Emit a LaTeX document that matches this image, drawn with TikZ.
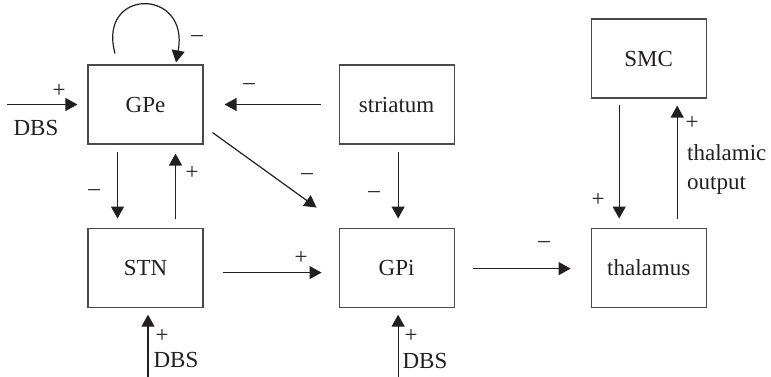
\documentclass[tikz,border=0pt]{standalone}
\usepackage{fontspec}
\setmainfont{Liberation Serif}
\usetikzlibrary{arrows.meta,positioning}
\definecolor{Ink}{HTML}{231F20}
\definecolor{Frame}{HTML}{4A4A4A}
\tikzset{
  region/.style={
    draw=Frame, line width=1.1pt, minimum width=115pt, minimum height=79pt,
    inner sep=0pt, text=Ink, font=\fontsize{23}{28}\selectfont
  },
  sign/.style={inner sep=0pt, text=Ink, font=\fontsize{23}{28}\selectfont},
  note/.style={inner sep=0pt, text=Ink, align=left, font=\fontsize{23}{29}\selectfont},
  flow/.style={-{Triangle[length=12pt,width=13pt]}, line width=1.2pt, draw=Ink}
}

\begin{document}
\begin{tikzpicture}[x=1pt,y=-1pt]
    \useasboundingbox (0,0) rectangle (771,376);
    % boxes
    \node[region] (gpe) at (145.5,104.5) {GPe};
    \node[region,below=83pt of gpe] (stn) {STN};
    \node[region,right=135pt of gpe] (striatum) {striatum};
    \node[region,below=83pt of striatum] (gpi) {GPi};
    \node[region,right=136pt of gpi] (thalamus) {thalamus};
    \node[region,above=129pt of thalamus] (smc) {SMC};
    % free ends of the DBS inputs
    \coordinate[left=80pt of gpe.west] (dbsGPe);
    \coordinate (dbsSTN) at ([xshift=2.5pt,yshift=-69pt]stn.south);
    \coordinate (dbsGPi) at ([xshift=1.5pt,yshift=-69pt]gpi.south);
    % connectors
    \draw[flow] (dbsGPe) -- ([xshift=-10pt]gpe.west);
    \draw[flow] ([xshift=-30.5pt,yshift=11pt]gpe.north) .. controls +(-18,-66) and +(14,-75) .. ([xshift=30.5pt,yshift=2pt]gpe.north);
    \draw[flow] ([xshift=-18pt]striatum.west) -- ([xshift=21pt]gpe.east);
    \draw[flow] ([xshift=-28pt,yshift=-7pt]gpe.south) -- ([xshift=-28pt,yshift=9pt]stn.north);
    \draw[flow] ([xshift=30pt,yshift=9pt]stn.north) -- ([xshift=30pt,yshift=-9pt]gpe.south);
    \draw[flow] ([xshift=9pt,yshift=12pt]gpe.south east) -- ([xshift=-22pt,yshift=20pt]gpi.north west);
    \draw[flow] ([xshift=1.5pt,yshift=-7pt]striatum.south) -- ([xshift=1.5pt,yshift=9pt]gpi.north);
    \draw[flow] ([xshift=19pt,yshift=-5pt]stn.east) -- ([xshift=-17pt,yshift=-5pt]gpi.west);
    \draw[flow] ([xshift=18pt,yshift=-1pt]gpi.east) -- ([xshift=-20pt,yshift=-1pt]thalamus.west);
    \draw[flow] ([xshift=-29.5pt,yshift=-6pt]smc.south) -- ([xshift=-29.5pt,yshift=9pt]thalamus.north);
    \draw[flow] ([xshift=28.5pt,yshift=9pt]thalamus.north) -- ([xshift=28.5pt,yshift=-7pt]smc.south);
    \draw[flow] (dbsSTN) -- ([xshift=2.5pt,yshift=-7pt]stn.south);
    \draw[flow] (dbsGPi) -- ([xshift=1.5pt,yshift=-7pt]gpi.south);
    % signs and labels
    \node[sign] (sDbsGPe) at (59,91) {+};
    \node[sign] (tDbsGPe) at (36,128) {DBS};
    \node[sign] (sLoop) at (197,39) {--};
    \node[sign] (sStrGPe) at (249,87) {--};
    \node[sign] (sGPeSTN) at (94,193) {--};
    \node[sign] (sSTNGPe) at (192,173) {+};
    \node[sign] (sGPeGPi) at (307,177) {--};
    \node[sign] (sStrGPi) at (374,195) {--};
    \node[sign] (sSTNGPi) at (301,258) {+};
    \node[sign] (sDbsSTN) at (162,336) {+};
    \node[sign] (tDbsSTN) at (176,360) {DBS};
    \node[sign] (sDbsGPi) at (411,336) {+};
    \node[sign] (tDbsGPi) at (425,361) {DBS};
    \node[sign] (sGPiThal) at (544,245) {--};
    \node[sign] (sSMCThal) at (598,200) {+};
    \node[sign] (sThalSMC) at (692,123) {+};
    \node[note,anchor=north west] (tOutput) at (687,144) {thalamic\\output};
\end{tikzpicture}
\end{document}
